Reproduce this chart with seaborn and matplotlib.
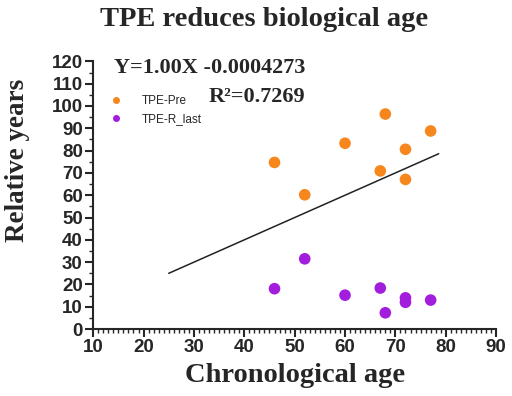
import matplotlib
matplotlib.use('Agg')
import matplotlib.pyplot as plt
import seaborn as sns
import pandas as pd
import numpy as np
from matplotlib.ticker import MultipleLocator

# chronological age of each patient
pre_age = [46, 52, 60, 67, 68, 72, 72, 77]
pre_years = [74.7, 60.2, 83.3, 70.9, 96.4, 80.6, 67.1, 88.8]

last_age = [46, 52, 60, 67, 68, 72, 72, 77]
last_years = [18.1, 31.5, 15.2, 18.4, 7.3, 14.0, 12.0, 13.0]

# fitted line as reported on the figure
slope = 1.00
intercept = -0.0004273
r_squared = 0.7269
line_x = [25, 78.6]

colours = {'TPE-Pre': '#F7861C', 'TPE-R_last': '#A21EDC'}

df = pd.concat([
    pd.DataFrame({'age': pre_age, 'years': pre_years, 'group': 'TPE-Pre'}),
    pd.DataFrame({'age': last_age, 'years': last_years, 'group': 'TPE-R_last'}),
])

sns.set_style('ticks')
serif = ['Liberation Serif', 'DejaVu Serif']
sans = ['Liberation Sans', 'DejaVu Sans']
plt.rcParams['font.family'] = sans

fig = plt.figure(figsize=(5.12, 3.96), dpi=100)
ax = fig.add_axes([0.182, 0.169, 0.787, 0.676])

sns.scatterplot(data=df, x='age', y='years', hue='group', palette=colours,
                s=70, linewidth=0, ax=ax)

lx = np.array(line_x)
ax.plot(lx, slope * lx + intercept, color='#222222', lw=1.1)

ax.set_xlim(10, 90)
ax.set_ylim(0, 120)
ax.xaxis.set_major_locator(MultipleLocator(10))
ax.xaxis.set_minor_locator(MultipleLocator(1))
ax.yaxis.set_major_locator(MultipleLocator(10))
ax.yaxis.set_minor_locator(MultipleLocator(5))
ax.tick_params(which='major', length=6, width=1.5, labelsize=13.5, pad=1.5)
ax.tick_params(which='minor', length=3, width=1.0)
for lab in ax.get_xticklabels() + ax.get_yticklabels():
    lab.set_fontweight('bold')
for sp in ['left', 'bottom']:
    ax.spines[sp].set_linewidth(1.5)
sns.despine(ax=ax)

ax.set_xlabel('Chronological age', family=serif, fontweight='bold', fontsize=20.5, labelpad=5)
ax.set_ylabel('Relative years', family=serif, fontweight='bold', fontsize=19.5)
ax.yaxis.set_label_coords(-0.158, 0.63)
fig.suptitle('TPE reduces biological age', family=serif, fontweight='bold',
             fontsize=20.5, x=0.515, y=0.982)

ax.text(0.597, 0.828, f'Y={slope:.2f}X {intercept:.7f}', transform=fig.transFigure,
        family=serif, fontweight='bold', fontsize=16, ha='right', va='center')
ax.text(0.597, 0.755, f'R\u00b2={r_squared}', transform=fig.transFigure,
        family=serif, fontweight='bold', fontsize=16, ha='right', va='center')

leg = ax.legend(loc='upper left', bbox_to_anchor=(0.0, 0.915), frameon=False,
                fontsize=8.5, markerscale=0.6, handletextpad=1.2, labelspacing=0.5)

fig.savefig('out.png', dpi=100)
